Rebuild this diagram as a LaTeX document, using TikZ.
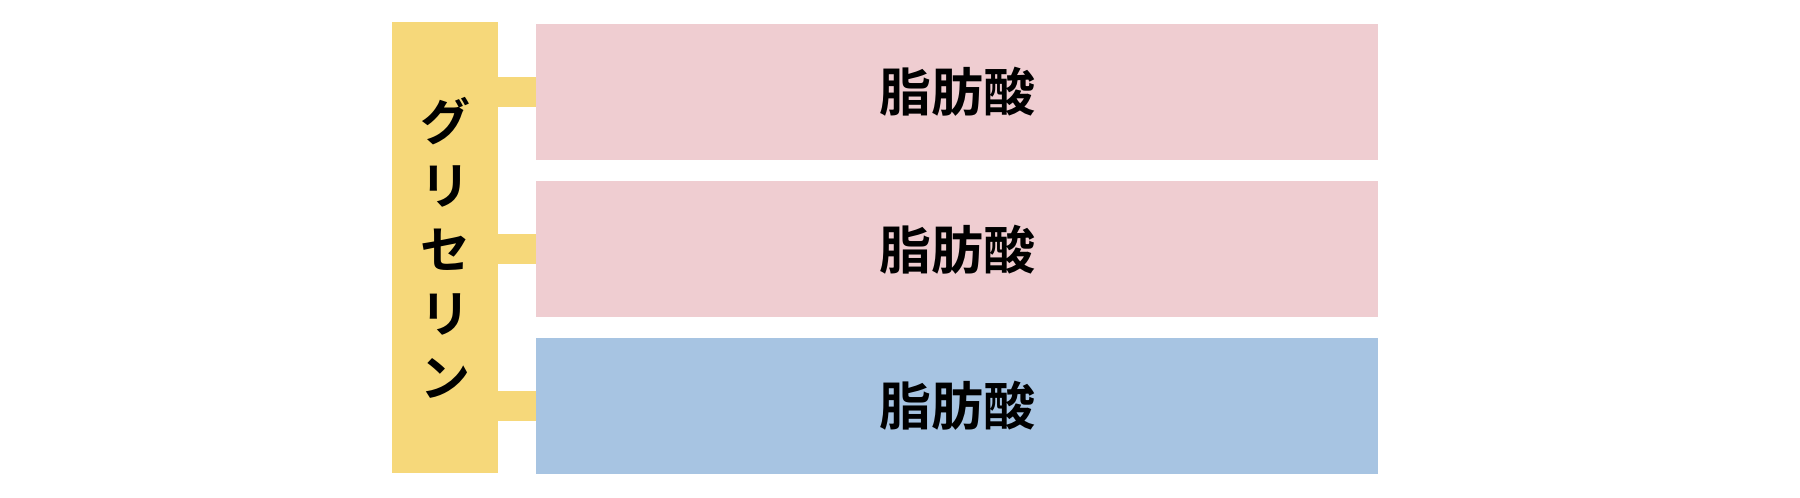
\documentclass[tikz,border=0pt]{standalone}
\usepackage{fontspec}
\usepackage{tikz}
\usepackage{xcolor}
\usetikzlibrary{positioning}
\newfontfamily\jpbold{Noto Sans CJK JP Bold}
\definecolor{glyYellow}{HTML}{F6D87A}
\definecolor{acidPink}{HTML}{EFCDD1}
\definecolor{acidBlue}{HTML}{A7C4E2}
\tikzset{
    glycerin-bar/.style = {fill=glyYellow, rectangle, inner sep=0pt, minimum width=106pt, minimum height=451pt, align=center, font=\fontsize{50}{64}\selectfont\jpbold},
    acid-box/.style = {rectangle, inner sep=0pt, minimum width=842pt, minimum height=136pt, font=\fontsize{52}{60}\selectfont\jpbold},
    ester-link/.style = {draw=glyYellow, line width=30pt},
}
\begin{document}
\begin{tikzpicture}
\useasboundingbox (0,0) rectangle (1800pt,-498pt);
\node [glycerin-bar] (glycerin) at (445pt,-247.5pt) {グ\\リ\\セ\\リ\\ン};
\node [acid-box, fill=acidPink] (acid1) at (957pt,-92pt) {脂肪酸};
\node [acid-box, fill=acidPink, below=21pt of acid1] (acid2) {脂肪酸};
\node [acid-box, fill=acidBlue, below=20pt of acid2] (acid3) {脂肪酸};
\draw [ester-link] (glycerin.east |- acid1.west) -- (acid1.west);
\draw [ester-link] (glycerin.east |- acid2.west) -- (acid2.west);
\draw [ester-link] (glycerin.east |- acid3.west) -- (acid3.west);
\end{tikzpicture}
\end{document}
